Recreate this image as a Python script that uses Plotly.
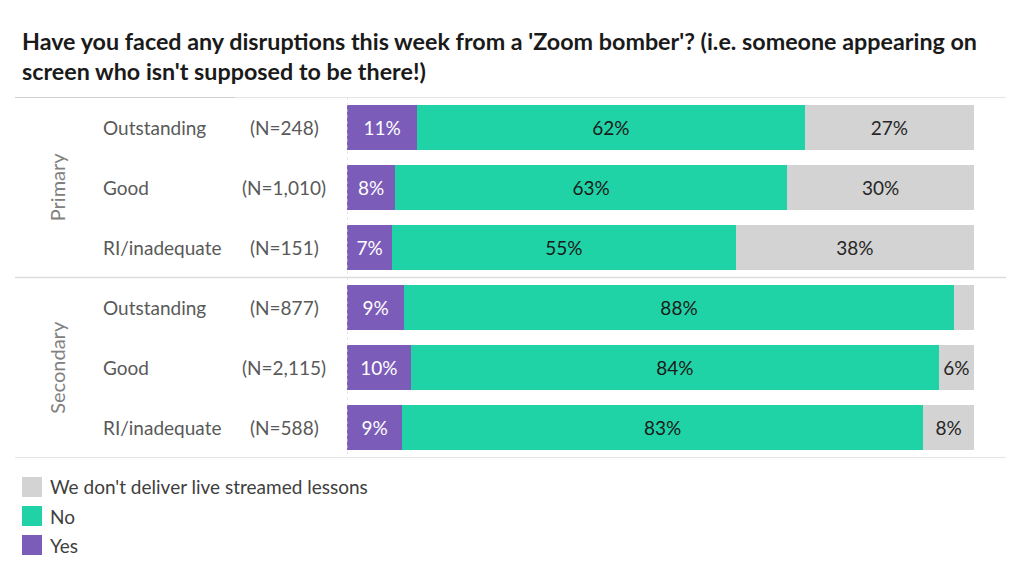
import plotly.graph_objects as go

# ---- data ----
groups = ["Primary", "Primary", "Primary", "Secondary", "Secondary", "Secondary"]
categories = ["Outstanding", "Good", "RI/inadequate", "Outstanding", "Good", "RI/inadequate"]
n_labels = ["(N=248)", "(N=1,010)", "(N=151)", "(N=877)", "(N=2,115)", "(N=588)"]

yes_vals = [11.2, 7.7, 7.2, 9.1, 10.2, 8.8]
no_vals = [61.8, 62.5, 54.8, 87.7, 84.2, 83.1]
dont_vals = [27.0, 29.8, 38.0, 3.2, 5.6, 8.1]

yes_text = ["11%", "8%", "7%", "9%", "10%", "9%"]
no_text = ["62%", "63%", "55%", "88%", "84%", "83%"]
dont_text = ["27%", "30%", "38%", "", "6%", "8%"]

series_names = ["Yes", "No", "We don't deliver live streamed lessons"]
colors = ["#7c5cb9", "#20d3a6", "#d3d3d3"]
text_colors = ["#ffffff", "#1a1a1a", "#262626"]
legend_order = [2, 1, 0]

title = ("Have you faced any disruptions this week from a 'Zoom bomber'? (i.e. someone appearing on"
         "<br>screen who isn't supposed to be there!)")

# ---- layout geometry (pixels, page coords; page body has an 8px margin) ----
OX, OY = 8, 8
W, H = 1024 - OX, 585 - OY
L, R, T, B = 347 - OX, 974 - OX, 97 - OY, 458 - OY
pw, ph = R - L, B - T


def px_x(p):
    return (p - OX - L) / pw


def px_y(p):
    return (B - (p - OY)) / ph


rows = list(range(len(categories)))
FONT = "Lato, 'Open Sans', sans-serif"

fig = go.Figure()
for vals, txt, name, col, tcol in zip(
        [yes_vals, no_vals, dont_vals], [yes_text, no_text, dont_text],
        series_names, colors, text_colors):
    fig.add_trace(go.Bar(
        x=vals, y=rows, orientation="h", name=name,
        marker=dict(color=col, line=dict(width=0)),
        text=txt, textposition="inside", insidetextanchor="middle",
        textangle=0, textfont=dict(color=tcol, size=19, family=FONT),
        showlegend=False, hoverinfo="skip",
    ))

annotations = []
for i, (cat, nl) in enumerate(zip(categories, n_labels)):
    annotations.append(dict(x=px_x(101), xref="paper", y=i, yref="y", text=cat,
                            showarrow=False, xanchor="left", yanchor="middle",
                            font=dict(size=19, color="#595959", family=FONT)))
    annotations.append(dict(x=px_x(284), xref="paper", y=i, yref="y", text=nl,
                            showarrow=False, xanchor="center", yanchor="middle",
                            font=dict(size=19, color="#595959", family=FONT)))

# group labels (rotated)
seen = []
for g in groups:
    if g not in seen:
        seen.append(g)
for g in seen:
    idx = [i for i, gg in enumerate(groups) if gg == g]
    mid = (idx[0] + idx[-1]) / 2
    annotations.append(dict(x=px_x(57), xref="paper", y=mid, yref="y", text=g,
                            showarrow=False, textangle=-90, xanchor="center",
                            yanchor="middle",
                            font=dict(size=20, color="#808080", family=FONT)))

shapes = []
# separators at group boundaries
bounds = [-0.5]
for i in range(1, len(groups)):
    if groups[i] != groups[i - 1]:
        bounds.append(i - 0.5)
bounds.append(len(groups) - 0.5)
for b in bounds:
    shapes.append(dict(type="line", xref="paper", yref="y",
                       x0=px_x(15), x1=px_x(1006), y0=b, y1=b,
                       line=dict(color="#dcdcdc", width=1.5)))
shapes.append(dict(type="line", xref="paper", yref="y",
                   x0=px_x(15), x1=px_x(235), y0=-0.5, y1=-0.5,
                   line=dict(color="#c8c8c8", width=1.5)))
# vertical dotted baseline
shapes.append(dict(type="line", xref="x", yref="y", x0=0, x1=0,
                   y0=-0.5, y1=len(groups) - 0.5,
                   line=dict(color="#cfcfcf", width=1, dash="dot")))

# legend (drawn as swatches + real text)
leg_y = [487, 516, 545]
for yy, k in zip(leg_y, legend_order):
    shapes.append(dict(type="rect", xref="paper", yref="paper",
                       x0=px_x(22), x1=px_x(42), y0=px_y(yy - 10), y1=px_y(yy + 10),
                       fillcolor=colors[k], line=dict(width=0)))
    annotations.append(dict(x=px_x(48), xref="paper", y=px_y(yy), yref="paper",
                            text=series_names[k], showarrow=False,
                            xanchor="left", yanchor="middle",
                            font=dict(size=19, color="#404040", family=FONT)))

fig.update_layout(
    width=W, height=H,
    margin=dict(l=L, r=W - R, t=T, b=H - B, pad=0),
    barmode="stack", bargap=0.25,
    plot_bgcolor="white", paper_bgcolor="white",
    font=dict(family=FONT, color="#404040"),
    title=dict(text=title, xref="container", yref="container",
               x=(22 - OX) / W, xanchor="left", y=1 - (50 - OY) / H, yanchor="top",
               font=dict(size=23.3, color="#1a1a1a", family=FONT, weight="bold")),
    xaxis=dict(range=[0, 100], visible=False, fixedrange=True),
    yaxis=dict(range=[len(groups) - 0.5, -0.5], visible=False, fixedrange=True),
    uniformtext=dict(minsize=19, mode="show"),
    annotations=annotations, shapes=shapes,
    showlegend=False,
)

fig.write_html("out.html", config={"displayModeBar": False})
